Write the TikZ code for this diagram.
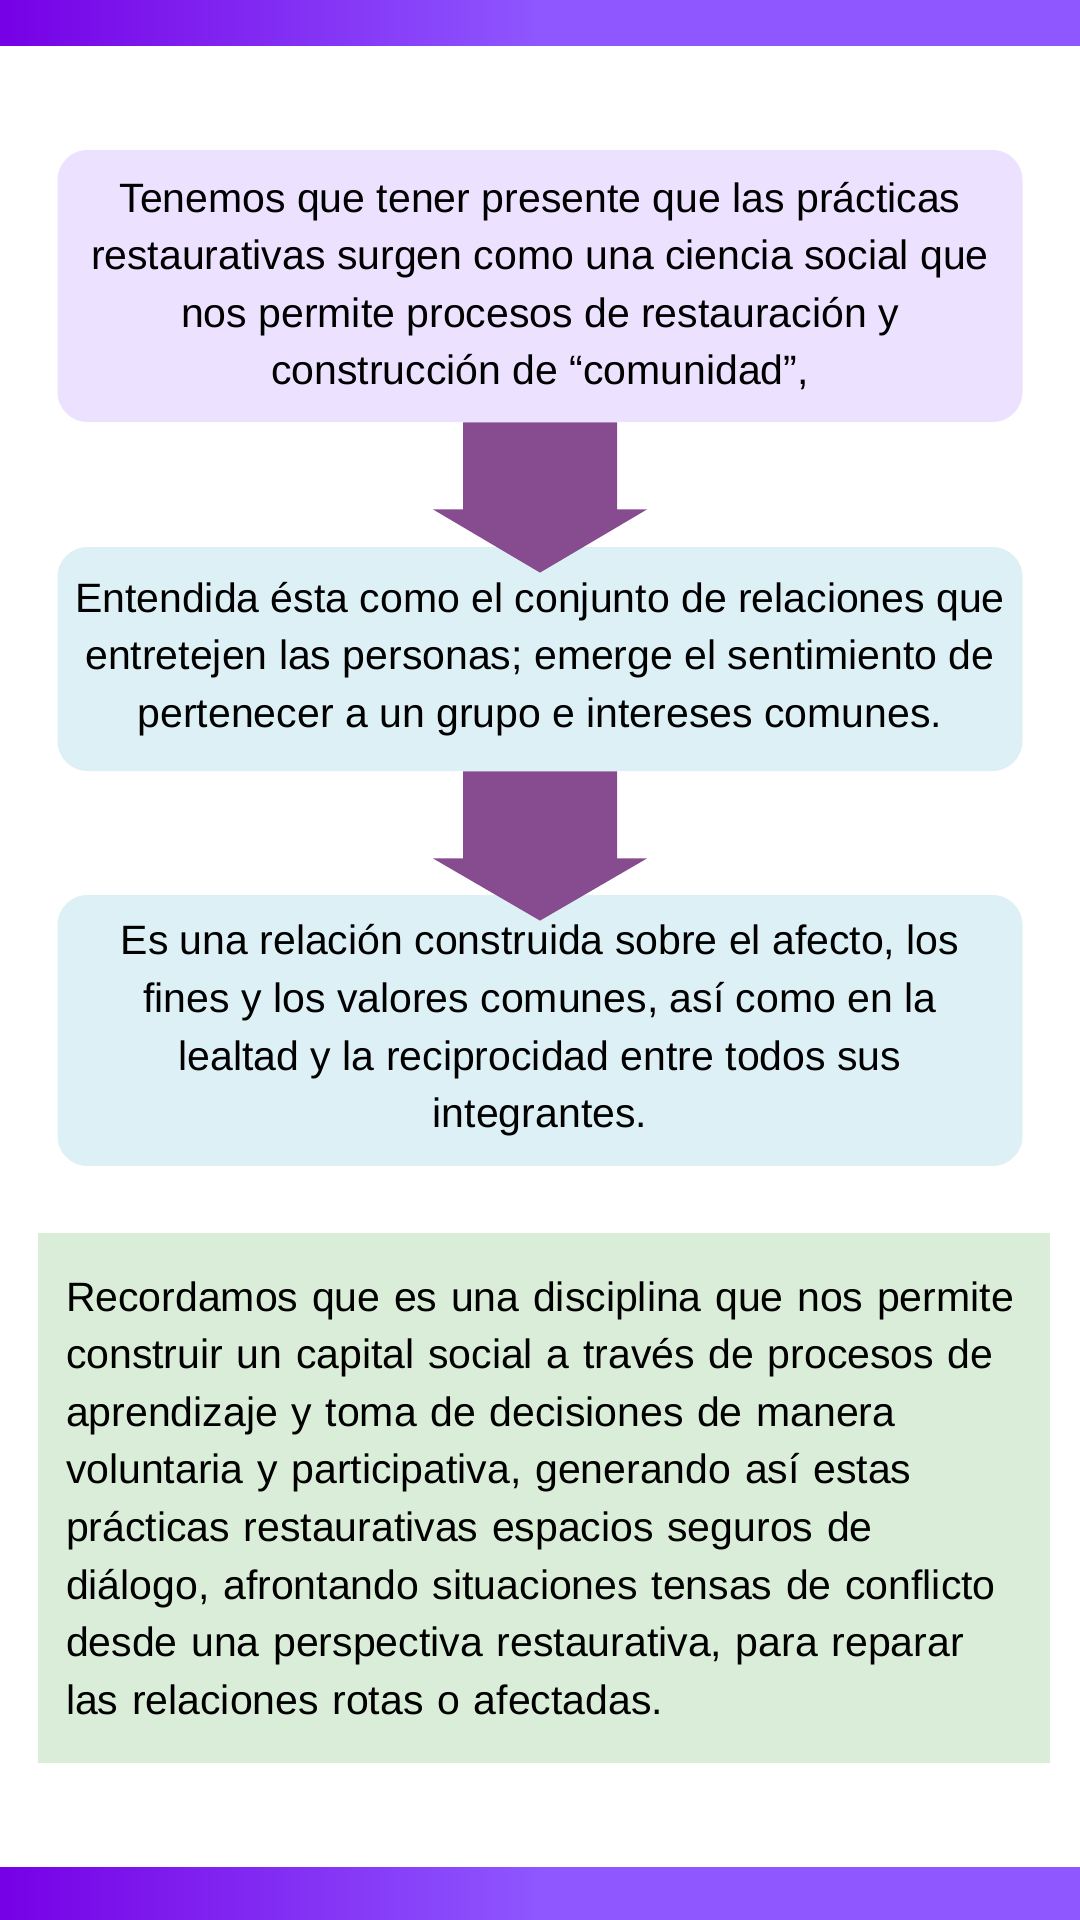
\documentclass[tikz,border=0pt]{standalone}
\usepackage{fontspec}
\setmainfont{Liberation Sans}
\usetikzlibrary{calc}

\definecolor{barleft}{HTML}{7600E6}
\definecolor{barright}{HTML}{8E57FF}
\definecolor{lavender}{HTML}{ECE1FE}
\definecolor{paleblue}{HTML}{DDF0F6}
\definecolor{palegreen}{HTML}{DAEDD8}
\definecolor{plum}{HTML}{874C8F}

\tikzset{
  textfont/.style={font=\fontsize{20.5}{28.8}\selectfont},
  roundbox/.style={fill=#1, rounded corners=15pt, minimum width=482.5pt, inner sep=0pt, align=center, textfont},
  notebox/.style={fill=palegreen, inner xsep=14pt, inner ysep=0pt, text width=478pt, minimum height=265pt, align=left, textfont},
  downarrow/.style={fill=plum}
}

\begin{document}
\begin{tikzpicture}[x=0.5pt, y=-0.5pt]
  \useasboundingbox (0,0) rectangle (1080,1920);

  % top and bottom bars
  \shade[left color=barleft, right color=barright] (0,0) rectangle (540,46);
  \fill[barright] (540,0) rectangle (1080,46);
  \shade[left color=barleft, right color=barright] (0,1867) rectangle (540,1920);
  \fill[barright] (540,1867) rectangle (1080,1920);

  \node[roundbox=lavender, minimum height=136pt] (idea) at (540,286)
    { Tenemos que tener presente que las prácticas\\
      restaurativas surgen como una ciencia social que\\
      nos permite procesos de restauración y\\
      construcción de “comunidad”, };

  \node[roundbox=paleblue, minimum height=112pt] (comunidad) at (540,659)
    { Entendida ésta como el conjunto de relaciones que\\
      entretejen las personas; emerge el sentimiento de\\
      pertenecer a un grupo e intereses comunes. };

  \node[roundbox=paleblue, minimum height=135.5pt] (relacion) at (540,1030.5)
    { Es una relación construida sobre el afecto, los\\
      fines y los valores comunes, así como en la\\
      lealtad y la reciprocidad entre todos sus\\
      integrantes. };

  \node[notebox] (recuerdo) at (544,1498)
    { Recordamos que es una disciplina que nos permite\\
      construir un capital social a través de procesos de\\
      aprendizaje y toma de decisiones de manera\\
      voluntaria y participativa, generando así estas\\
      prácticas restaurativas espacios seguros de\\
      diálogo, afrontando situaciones tensas de conflicto\\
      desde una perspectiva restaurativa, para reparar\\
      las relaciones rotas o afectadas. };

  % block arrows
  \foreach \from/\to in {idea/comunidad, comunidad/relacion} {
    \fill[downarrow] ($(\from.south)+(-77,0)$) -- ($(\from.south)+(77,0)$)
      -- ($(\from.south)+(77,87)$) -- ($(\from.south)+(107,87)$)
      -- ($(\to.north)+(0,26)$)
      -- ($(\from.south)+(-107,87)$) -- ($(\from.south)+(-77,87)$) -- cycle;
  }
\end{tikzpicture}
\end{document}
